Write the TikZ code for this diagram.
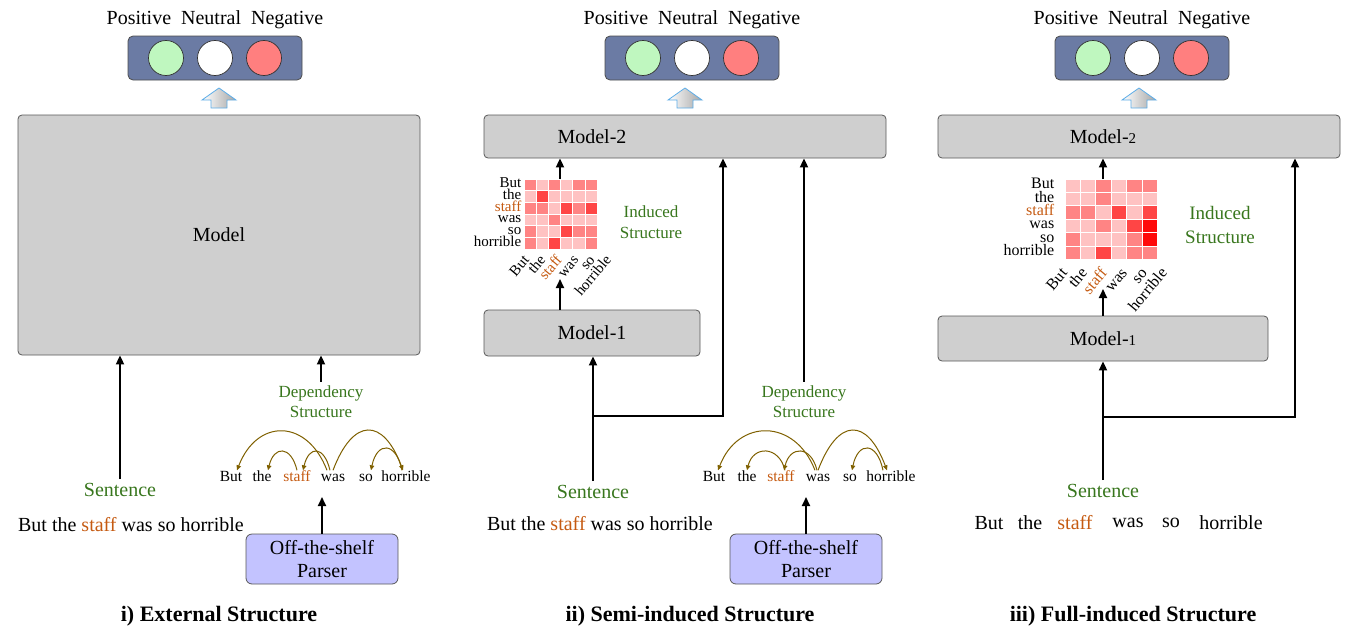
\documentclass[tikz,border=0pt]{standalone}
\usepackage{fontspec}
\setmainfont{Liberation Serif}
\usetikzlibrary{positioning,arrows.meta}

\definecolor{outbox}{HTML}{6B7BA4}
\definecolor{posgreen}{HTML}{BFF7BF}
\definecolor{negred}{HTML}{FF7F7F}
\definecolor{modelgray}{HTML}{CFCFCF}
\definecolor{parserblue}{HTML}{C3C3FF}
\definecolor{labelgreen}{HTML}{38761D}
\definecolor{staffcol}{HTML}{C55A11}
\definecolor{arccol}{HTML}{7F6000}
\definecolor{hollowblue}{HTML}{5DADE8}
\definecolor{hm1}{HTML}{FFC2C2}
\definecolor{hm2}{HTML}{FF8484}
\definecolor{hm3}{HTML}{FF4545}
\definecolor{hm4}{HTML}{FF0A0A}

\newcommand{\stafftxt}{\textcolor{staffcol}{staff}}

\begin{document}
\begin{tikzpicture}[x=1pt,y=1pt,on grid,
    >={Triangle[length=9pt,width=8pt]},
    big/.style={font=\fontsize{20}{23}\selectfont,inner sep=2pt},
    outputbox/.style={draw=black!70,fill=outbox,rounded corners=5pt,line width=0.8pt,
      minimum width=174pt,minimum height=44pt},
    polarity/.style={circle,draw=black!80,line width=0.7pt,minimum size=35pt},
    hollow/.style={draw=hollowblue,line width=0.8pt,left color=white,right color=black!35},
    modelbox/.style={draw=black!65,fill=modelgray,rounded corners=4pt,line width=0.8pt,big},
    parserbox/.style={draw=black!65,fill=parserblue,rounded corners=6pt,line width=0.8pt,
      minimum width=152pt,minimum height=50pt,align=center,big,
      font=\fontsize{20}{23}\selectfont},
    greenlabel/.style={text=labelgreen,align=center,inner sep=4pt},
    dword/.style={font=\fontsize{15.5}{17}\selectfont,inner sep=1pt,text height=10pt,text depth=3pt},
    hmlab/.style={font=\fontsize{15}{15}\selectfont,inner sep=0.5pt,text height=8pt,text depth=2pt},
    deparc/.style={->,>={Triangle[length=5pt,width=4.5pt]},draw=arccol,line width=1pt},
    flow/.style={->,line width=1.8pt},
    title/.style={font=\bfseries\fontsize{22}{26}\selectfont}]
  \useasboundingbox (0,0) rectangle (1352,-629);

  % i) external structure
  \node[outputbox] (outA) at (215,-58) {};
  \node[polarity,fill=white] (neuA) at (outA) {};
  \node[polarity,fill=posgreen] (posA) [left=49pt of neuA] {};
  \node[polarity,fill=negred] (negA) [right=49pt of neuA] {};
  \node[big] (polA) [above=38pt of outA] {Positive~ Neutral~ Negative};
  \coordinate (upA) at (219,-108);
  \draw[hollow] (upA) ++(-8,0) -- ++(0,8) -- ++(-9,0) -- ++(17,12) -- ++(17,-12) -- ++(-9,0) -- ++(0,-8) -- cycle;
  \node[modelbox,minimum width=402pt,minimum height=240pt] (modelA) at (219,-235) {Model};

  \node[big,greenlabel] (sentlabA) at (120,-490) {Sentence};
  \node[big] (sentA) at (131,-525) {But the \stafftxt{} was so horrible};

  \node[greenlabel,font=\fontsize{17}{20}\selectfont] (depA) at (321,-402) {Dependency\\Structure};
  \node[dword] (butA) at (231,-478) {But};
  \node[dword] (theA) [right=31pt of butA] {the};
  \node[dword,text=staffcol] (staffA) [right=35pt of theA] {staff};
  \node[dword] (wasA) [right=36pt of staffA] {was};
  \node[dword] (soA) [right=33pt of wasA] {so};
  \node[dword] (horA) [right=40pt of soA] {horrible};
  \coordinate (wordsA) at (321,-497);
  \node[parserbox] (parserA) at (322,-559) {Off-the-shelf\\Parser};

  \draw[flow] (sentlabA.north) -- (sentlabA.north |- modelA.south);
  \draw[flow] (depA.north) -- (depA.north |- modelA.south);
  \draw[flow] (parserA.north) -- (parserA.north |- wordsA);

  % arcs
  \draw[deparc] ([xshift=-6pt]wasA.north) .. controls +(-20,52) and +(20,52) .. ([xshift=6pt]butA.north);
  \draw[deparc] (staffA.north) .. controls +(-6,25) and +(6,25) .. ([xshift=6pt]theA.north);
  \draw[deparc] ([xshift=-3pt]wasA.north) .. controls +(-6,25) and +(6,25) .. ([xshift=6pt]staffA.north);
  \draw[deparc] (wasA.north) .. controls +(20,53) and +(-20,53) .. ([xshift=-3pt]horA.north);
  \draw[deparc] ([xshift=-4pt]horA.north) .. controls +(-6,29) and +(6,29) .. ([xshift=5pt]soA.north);

  \node[title] (titleA) at (219,-616) {i) External Structure};

  % ii) semi-induced structure
  \node[outputbox] (outB) at (692,-58) {};
  \node[polarity,fill=white] (neuB) at (outB) {};
  \node[polarity,fill=posgreen] (posB) [left=49pt of neuB] {};
  \node[polarity,fill=negred] (negB) [right=49pt of neuB] {};
  \node[big] (polB) [above=38pt of outB] {Positive~ Neutral~ Negative};
  \coordinate (upB) at (685,-108);
  \draw[hollow] (upB) ++(-8,0) -- ++(0,8) -- ++(-9,0) -- ++(17,12) -- ++(17,-12) -- ++(-9,0) -- ++(0,-8) -- cycle;
  \node[modelbox,minimum width=402pt,minimum height=43pt] (modelTwoB) at (685,-136.5) {};
  \node[modelbox,minimum width=216pt,minimum height=46pt] (modelOneB) at (592,-333) {Model-1};
  \node[big] (m2txtB) at (modelTwoB.center -| modelOneB.center) {Model-2};

  % heatmap
  \foreach \vals [count=\r] in {{2,1,2,1,2,2},{1,3,1,1,1,1},{2,2,1,3,2,3},{1,1,2,1,1,1},{2,1,1,3,2,2},{2,1,3,1,1,2}}
    \foreach \v [count=\c] in \vals
      \filldraw[fill=hm\v,draw=white,line width=0.8pt] (524+12.2*\c-12.2,-179-11.7*\r+11.7) rectangle ++(12.2,-11.7);
  \foreach \w [count=\r] in {But,the,\stafftxt,was,so,horrible}
    \node[hmlab,anchor=east] (rowB\r) at (522,-184.85-11.7*\r+11.7) {\w};
  \foreach \w [count=\c] in {But,the,\stafftxt,was,so,horrible}
    \node[hmlab,rotate=50,anchor=east] (colB\c) at (511.6+16.4*\c,-258) {\w};
  \coordinate (hmtopB) at (560,-179);
  \coordinate (hmbotB) at (560,-279);
  \node[greenlabel,font=\fontsize{17}{20.5}\selectfont] (indB) at (651,-222) {Induced\\Structure};

  \node[big,greenlabel] (sentlabB) at (593,-492) {Sentence};
  \node[big] (sentB) at (600,-524) {But the \stafftxt{} was so horrible};
  \coordinate (splitB) at (593,-416);

  \node[greenlabel,font=\fontsize{17}{20}\selectfont] (depB) at (804,-402) {Dependency\\Structure};
  \node[dword] (butB) at (714,-478) {But};
  \node[dword] (theB) [right=33pt of butB] {the};
  \node[dword,text=staffcol] (staffB) [right=34pt of theB] {staff};
  \node[dword] (wasB) [right=37pt of staffB] {was};
  \node[dword] (soB) [right=32pt of wasB] {so};
  \node[dword] (horB) [right=41pt of soB] {horrible};
  \coordinate (wordsB) at (806,-497);
  \node[parserbox] (parserB) at (806,-559) {Off-the-shelf\\Parser};

  \draw[flow] (hmtopB) -- (hmtopB |- modelTwoB.south);
  \draw[flow] (hmbotB |- modelOneB.north) -- (hmbotB);
  \draw[flow] (sentlabB.north) -- (sentlabB.north |- modelOneB.south);
  \draw[flow] (splitB) -| ([xshift=38pt]modelTwoB.south);
  \draw[flow] (depB.north) -- (depB.north |- modelTwoB.south);
  \draw[flow] (parserB.north) -- (parserB.north |- wordsB);

  % arcs
  \draw[deparc] ([xshift=-3pt]wasB.north) .. controls +(-20,52) and +(20,52) .. ([xshift=4pt]butB.north);
  \draw[deparc] ([xshift=4pt]staffB.north) .. controls +(-6,25) and +(6,25) .. (theB.north);
  \draw[deparc] ([xshift=-1pt]wasB.north) .. controls +(-6,25) and +(6,25) .. ([xshift=3pt]staffB.north);
  \draw[deparc] (wasB.north) .. controls +(20,53) and +(-20,53) .. ([xshift=-4pt]horB.north);
  \draw[deparc] ([xshift=-8pt]horB.north) .. controls +(-6,29) and +(6,29) .. ([xshift=2pt]soB.north);

  \node[title] (titleB) at (690,-616) {ii) Semi-induced Structure};

  % iii) full-induced structure
  \node[outputbox] (outC) at (1142,-58) {};
  \node[polarity,fill=white] (neuC) at (outC) {};
  \node[polarity,fill=posgreen] (posC) [left=49pt of neuC] {};
  \node[polarity,fill=negred] (negC) [right=49pt of neuC] {};
  \node[big] (polC) [above=38pt of outC] {Positive~ Neutral~ Negative};
  \coordinate (upC) at (1139,-108);
  \draw[hollow] (upC) ++(-8,0) -- ++(0,8) -- ++(-9,0) -- ++(17,12) -- ++(17,-12) -- ++(-9,0) -- ++(0,-8) -- cycle;
  \node[modelbox,minimum width=402pt,minimum height=43pt] (modelTwoC) at (1139,-136.5) {};
  \node[modelbox,minimum width=330pt,minimum height=45pt] (modelOneC) at (1103,-338.5) {Model-{\fontsize{15}{18}\selectfont 1}};
  \node[big] (m2txtC) at (modelTwoC.center -| modelOneC.center) {Model-{\fontsize{15}{18}\selectfont 2}};

  % heatmap
  \foreach \vals [count=\r] in {{1,1,2,1,2,2},{1,1,2,1,1,1},{2,2,1,3,1,3},{1,1,2,1,3,4},{2,1,1,1,2,4},{2,1,3,1,2,2}}
    \foreach \v [count=\c] in \vals
      \filldraw[fill=hm\v,draw=white,line width=0.8pt] (1065+15.4*\c-15.4,-179-13.4*\r+13.4) rectangle ++(15.4,-13.4);
  \foreach \w [count=\r] in {But,the,\stafftxt,was,so,horrible}
    \node[hmlab,font=\fontsize{16}{16}\selectfont,anchor=east] (rowC\r) at (1055,-185.7-13.4*\r+13.4) {\w};
  \foreach \w [count=\c] in {But,the,\stafftxt,was,so,horrible}
    \node[hmlab,font=\fontsize{16}{16}\selectfont,rotate=50,anchor=east] (colC\c) at (1046+20*\c,-271) {\w};
  \coordinate (hmtopC) at (1103,-179);
  \coordinate (hmbotC) at (1103,-289);
  \node[greenlabel,font=\fontsize{19}{24}\selectfont] (indC) at (1220,-225) {Induced\\Structure};

  \node[big,greenlabel] (sentlabC) at (1103,-491) {Sentence};
  \node[big] (butC) at (989,-523) {But};
  \node[big] (theC) [right=41pt of butC] {the};
  \node[big,text=staffcol] (staffC) [right=45pt of theC] {staff};
  \node[big] (wasC) [right=53pt of staffC] {was};
  \node[big] (soC) [right=43pt of wasC] {so};
  \node[big] (horC) [right=60pt of soC] {horrible};
  \coordinate (splitC) at (1103,-417);

  \draw[flow] (hmtopC) -- (hmtopC |- modelTwoC.south);
  \draw[flow] (hmbotC |- modelOneC.north) -- (hmbotC);
  \draw[flow] (sentlabC.north) -- (sentlabC.north |- modelOneC.south);
  \draw[flow] (splitC) -| ([xshift=156pt]modelTwoC.south);

  \node[title] (titleC) at (1133,-616) {iii) Full-induced Structure};
\end{tikzpicture}
\end{document}
